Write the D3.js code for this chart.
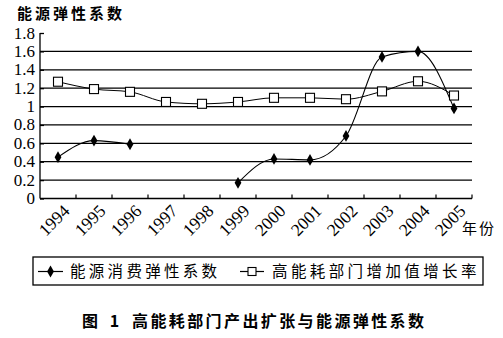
<!DOCTYPE html>
<html>
<head>
<meta charset="utf-8">
<script src="https://cdn.jsdelivr.net/npm/d3@7"></script>
<style>
  body { margin: 0; background: #fff; }
  text { fill: #000; }
</style>
</head>
<body>
<svg id="chart" width="503" height="338"></svg>
<script>
// years on the x axis
var years = ["1994", "1995", "1996", "1997", "1998", "1999", "2000", "2001", "2002", "2003", "2004", "2005"];
// 能源消费弹性系数 (1997, 1998 missing)
var elasticity = [0.45, 0.63, 0.59, null, null, 0.17, 0.43, 0.42, 0.68, 1.54, 1.60, 0.98];
// 高能耗部门增加值增长率
var growth = [1.27, 1.19, 1.16, 1.05, 1.03, 1.05, 1.095, 1.095, 1.08, 1.165, 1.275, 1.12];
// y tick values and labels
var yTicks = [0, 0.2, 0.4, 0.6, 0.8, 1, 1.2, 1.4, 1.6, 1.8];
var yLabels = ["0", "0.2", "0.4", "0.6", "0.8", "1", "1.2", "1.4", "1.6", "1.8"];

var svg = d3.select("#chart");

var plotL = 40, plotR = 472, plotT = 33, plotB = 198.5;

var x = d3.scaleBand().domain(years).range([plotL, plotR]);
var y = d3.scaleLinear().domain([0, 1.8]).range([plotB, plotT]);

var serif = "'Liberation Serif', 'DejaVu Serif', serif";
var cjk = "'Noto Sans CJK SC', sans-serif";

// title
svg.append("text")
    .attr("x", 17).attr("y", 19)
    .style("font-family", cjk).style("font-size", "15px").style("font-weight", "bold")
    .style("letter-spacing", "3px")
    .text("能源弹性系数");

// grid lines
svg.append("g").selectAll("line")
    .data(yTicks.filter(function (d) { return d > 0 && d < 1.8; }))
    .enter().append("line")
    .attr("x1", plotL).attr("x2", plotR)
    .attr("y1", function (d) { return y(d); }).attr("y2", function (d) { return y(d); })
    .attr("stroke", "#000").attr("stroke-width", 1.3);

// y axis
var yAxis = d3.axisRight(y).tickValues(yTicks).tickSize(4)
    .tickFormat(function () { return ""; });
var gy = svg.append("g").attr("transform", "translate(" + plotL + ",0)").call(yAxis);
gy.select(".domain").attr("d", "M0," + plotT + "V" + plotB).attr("stroke-width", 1.3);
gy.selectAll("line").attr("stroke-width", 1.3);

svg.append("g").selectAll("text")
    .data(yTicks)
    .enter().append("text")
    .attr("x", plotL - 5)
    .attr("y", function (d) { return y(d) + 5.5; })
    .attr("text-anchor", "end")
    .style("font-family", serif).style("font-size", "17px")
    .text(function (d, i) { return yLabels[i]; });

// x axis
svg.append("line")
    .attr("x1", plotL).attr("x2", plotR).attr("y1", plotB).attr("y2", plotB)
    .attr("stroke", "#000").attr("stroke-width", 1.3);
svg.append("g").selectAll("line")
    .data(years)
    .enter().append("line")
    .attr("x1", function (d) { return x(d) + x.bandwidth(); })
    .attr("x2", function (d) { return x(d) + x.bandwidth(); })
    .attr("y1", plotB).attr("y2", plotB - 4)
    .attr("stroke", "#000").attr("stroke-width", 1.2);

svg.append("g").selectAll("text")
    .data(years)
    .enter().append("text")
    .attr("transform", function (d) {
        var px = x(d) + x.bandwidth() / 2 + 4;
        return "translate(" + px + "," + (plotB + 5) + ") rotate(-45)";
    })
    .attr("text-anchor", "end")
    .attr("dy", "0.7em")
    .style("font-family", serif).style("font-size", "17.5px")
    .text(function (d) { return d; });

svg.append("text")
    .attr("x", 462).attr("y", 234)
    .style("font-family", cjk).style("font-size", "15px")
    .style("letter-spacing", "2px")
    .text("年份");

// lines
function px(i) { return x(years[i]) + x.bandwidth() / 2; }

var lineGen = d3.line()
    .defined(function (d) { return d != null; })
    .x(function (d, i) { return px(i); })
    .y(function (d) { return y(d); })
    .curve(d3.curveMonotoneX);

svg.append("path").datum(growth)
    .attr("d", lineGen)
    .attr("fill", "none").attr("stroke", "#000").attr("stroke-width", 1);

svg.append("path").datum(elasticity)
    .attr("d", lineGen)
    .attr("fill", "none").attr("stroke", "#000").attr("stroke-width", 1.1);

var diamond = d3.symbol().type(d3.symbolDiamond).size(40);

svg.append("g").selectAll("rect")
    .data(growth)
    .enter().append("rect")
    .attr("x", function (d, i) { return px(i) - 4.5; })
    .attr("y", function (d) { return y(d) - 4.5; })
    .attr("width", 9).attr("height", 9)
    .attr("fill", "#fff").attr("stroke", "#000").attr("stroke-width", 1.1);

svg.append("g").selectAll("path")
    .data(elasticity.map(function (d, i) { return { v: d, i: i }; }).filter(function (d) { return d.v != null; }))
    .enter().append("path")
    .attr("d", diamond)
    .attr("transform", function (d) { return "translate(" + px(d.i) + "," + y(d.v) + ")"; })
    .attr("fill", "#000");

// legend
var lg = svg.append("g");
lg.append("rect")
    .attr("x", 33).attr("y", 257).attr("width", 450).attr("height", 28)
    .attr("fill", "none").attr("stroke", "#000").attr("stroke-width", 1.3);

lg.append("line").attr("x1", 38).attr("x2", 63).attr("y1", 271.5).attr("y2", 271.5)
    .attr("stroke", "#000").attr("stroke-width", 1.2);
lg.append("path").attr("d", diamond)
    .attr("transform", "translate(50.5,271.5)").attr("fill", "#000");
lg.append("text").attr("x", 70).attr("y", 277)
    .style("font-family", cjk).style("font-size", "15.5px").style("letter-spacing", "3.3px")
    .text("能源消费弹性系数");

lg.append("line").attr("x1", 240).attr("x2", 264).attr("y1", 271.5).attr("y2", 271.5)
    .attr("stroke", "#000").attr("stroke-width", 1.2);
lg.append("rect").attr("x", 248).attr("y", 267.5).attr("width", 8).attr("height", 8)
    .attr("fill", "#fff").attr("stroke", "#000").attr("stroke-width", 1.1);
lg.append("text").attr("x", 272).attr("y", 277)
    .style("font-family", cjk).style("font-size", "15.5px").style("letter-spacing", "3.4px")
    .text("高能耗部门增加值增长率");

// caption
svg.append("text")
    .attr("x", 82).attr("y", 327)
    .style("font-family", cjk).style("font-size", "16px").style("font-weight", "bold")
    .style("letter-spacing", "4px")
    .text("图 1");
svg.append("text")
    .attr("x", 132).attr("y", 327)
    .style("font-family", cjk).style("font-size", "16px").style("font-weight", "bold")
    .style("letter-spacing", "2.4px")
    .text("高能耗部门产出扩张与能源弹性系数");
</script>
</body>
</html>
